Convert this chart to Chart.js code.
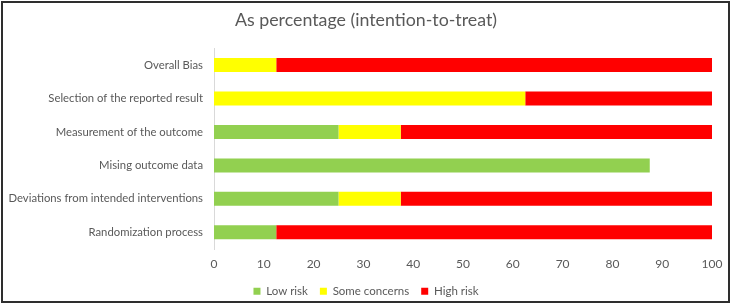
<!DOCTYPE html>
<html lang="en">
<head>
  <meta charset="UTF-8">
  <title>As percentage (intention-to-treat)</title>
  <script src="https://cdn.jsdelivr.net/npm/chart.js"></script>
  <style>
    body { margin: 0; background: #fff; }
    .moldura { position: relative; width: 732px; height: 305px; }
    .borda {
      position: absolute; left: 1px; top: 1px; width: 729px; height: 302px;
      border: 2px solid #2e2e2e; box-sizing: border-box; pointer-events: none;
    }
  </style>
</head>
<body>
  <div class="moldura">
    <canvas id="myChart" width="732" height="305"></canvas>
    <div class="borda"></div>
  </div>
<script>
  // dados
  let categorias = [
    'Overall Bias',
    'Selection of the reported result',
    'Measurement of the outcome',
    'Mising outcome data',
    'Deviations from intended interventions',
    'Randomization process'
  ];
  let baixoRisco = [0, 0, 25, 87.5, 25, 12.5];
  let algumaPreocupacao = [12.5, 62.5, 12.5, 0, 12.5, 0];
  let altoRisco = [87.5, 37.5, 62.5, 0, 62.5, 87.5];
  let ticksX = [0, 10, 20, 30, 40, 50, 60, 70, 80, 90, 100];

  const cinza = '#595959';
  const fonte = "Lato, 'Open Sans', sans-serif";

  let dados = {
    labels: categorias,
    datasets: [
      { label: 'Low risk', data: baixoRisco, backgroundColor: '#92D050' },
      { label: 'Some concerns', data: algumaPreocupacao, backgroundColor: '#FFFF00' },
      { label: 'High risk', data: altoRisco, backgroundColor: '#FF0000' }
    ]
  };

  const config = {
    type: 'bar',
    data: dados,
    options: {
      indexAxis: 'y',
      responsive: false,
      animation: false,
      devicePixelRatio: 1,
      categoryPercentage: 1,
      barPercentage: 0.42,
      layout: { padding: { top: 3, right: 20, bottom: -2, left: 20 } },
      scales: {
        x: {
          stacked: true,
          min: 0,
          max: 100,
          afterBuildTicks: (s) => { s.ticks = ticksX.map(v => ({ value: v })); },
          afterFit: (s) => { s.height = 24.5; },
          grid: { display: false, drawTicks: false },
          border: { display: false },
          ticks: { color: cinza, padding: 8, font: { family: fonte, size: 12 } }
        },
        y: {
          stacked: true,
          afterFit: (s) => { s.width = 194; },
          // deixa o rótulo mais longo passar para a margem esquerda sem cortar
          afterUpdate: (s) => { s._computeLabelArea = () => undefined; },
          grid: { display: false, drawTicks: false },
          border: { display: true, color: '#d9d9d9', width: 1 },
          ticks: { color: cinza, padding: 11, font: { family: fonte, size: 11.3 } }
        }
      },
      plugins: {
        title: {
          display: true,
          text: 'As percentage (intention-to-treat)',
          color: cinza,
          font: { family: fonte, size: 17.8, weight: 'normal' },
          padding: { top: 7, bottom: 17 }
        },
        legend: {
          position: 'bottom',
          labels: {
            color: cinza,
            boxWidth: 7,
            boxHeight: 7,
            padding: 12,
            font: { family: fonte, size: 11.5 }
          }
        },
        tooltip: { enabled: false }
      }
    }
  };

  let myChart = new Chart(document.getElementById('myChart'), config);
</script>
</body>
</html>
